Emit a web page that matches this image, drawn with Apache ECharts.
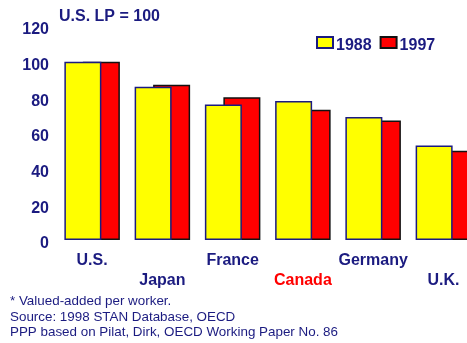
<!DOCTYPE html>
<html>
<head>
<meta charset="utf-8">
<script src="https://cdn.jsdelivr.net/npm/echarts@6/dist/echarts.min.js"></script>
<style>
  html, body { margin: 0; padding: 0; background: #fff; }
  #chart { width: 467px; height: 343px; }
</style>
</head>
<body>
<div id="chart"></div>
<script>
// Labour productivity relative to the U.S. (U.S. = 100)
const countries = ['U.S.', 'Japan', 'France', 'Canada', 'Germany', 'U.K.'];
const lp1988 = [100, 86, 76, 78, 69, 53];
const lp1997 = [100, 87, 80, 73, 67, 50];
const yTicks = [0, 20, 40, 60, 80, 100, 120];
const notes = [
  '* Valued-added per worker.',
  'Source: 1998 STAN Database, OECD',
  'PPP based on Pilat, Dirk, OECD Working Paper No. 86'
];

const NAVY = '#1b1b80';
const FONT = 'Liberation Sans, Arial, sans-serif';

const chart = echarts.init(document.getElementById('chart'));
chart.setOption({
  animation: false,
  backgroundColor: '#fff',
  textStyle: { fontFamily: FONT },
  title: {
    text: 'U.S. LP = 100',
    left: 54, top: 4,
    textStyle: { color: NAVY, fontSize: 16, fontWeight: 'bold', fontFamily: FONT }
  },
  legend: {
    left: 311, top: 31,
    itemWidth: 16, itemHeight: 11, itemGap: 8,
    icon: 'rect',
    data: ['1988', '1997'],
    formatter: '{t|{name}}',
    textStyle: {
      color: NAVY, fontSize: 16, fontWeight: 'bold', fontFamily: FONT,
      rich: {
        t: {
          color: NAVY, fontSize: 16, fontWeight: 'bold', fontFamily: FONT,
          padding: [6, 0, 0, -2]
        }
      }
    }
  },
  // the plot runs past the right edge, so the last bar is clipped
  grid: { left: 57, top: 26, bottom: 103, width: 421.5, outerBoundsMode: 'none', containLabel: false },
  xAxis: {
    type: 'category',
    data: countries,
    axisLine: { show: false },
    axisTick: { show: false },
    axisLabel: {
      interval: 0,
      margin: 11,
      formatter: (v, i) => {
        const style = v === 'Canada' ? 'r' : 'n';
        return (i % 2 ? '\n' : '') + '{' + style + '|' + v + '}';
      },
      rich: {
        n: { color: NAVY, fontSize: 16, fontWeight: 'bold', fontFamily: FONT, lineHeight: 20 },
        r: { color: '#ff0000', fontSize: 16, fontWeight: 'bold', fontFamily: FONT, lineHeight: 20 }
      },
      lineHeight: 20
    }
  },
  yAxis: {
    type: 'value',
    min: yTicks[0], max: yTicks[yTicks.length - 1], interval: 20,
    axisLine: { show: false },
    axisTick: { show: false },
    splitLine: { show: false },
    axisLabel: {
      color: NAVY, fontSize: 16, fontWeight: 'bold', fontFamily: FONT, margin: 8,
      verticalAlign: 'top', lineHeight: 8
    }
  },
  series: [
    {
      name: '1988', type: 'bar', data: lp1988,
      barWidth: 37, barGap: '-50%', z: 3,
      itemStyle: { color: '#ffff00', borderColor: NAVY, borderWidth: 1.5 }
    },
    {
      name: '1997', type: 'bar', data: lp1997,
      barWidth: 37, z: 2,
      itemStyle: { color: '#ff0000', borderColor: '#111', borderWidth: 1.5 }
    }
  ],
  graphic: notes.map((t, i) => ({
    type: 'text',
    left: 10, top: 295 + i * 15.6,
    style: { text: t, fill: NAVY, font: '13.4px ' + FONT }
  }))
});
</script>
</body>
</html>
